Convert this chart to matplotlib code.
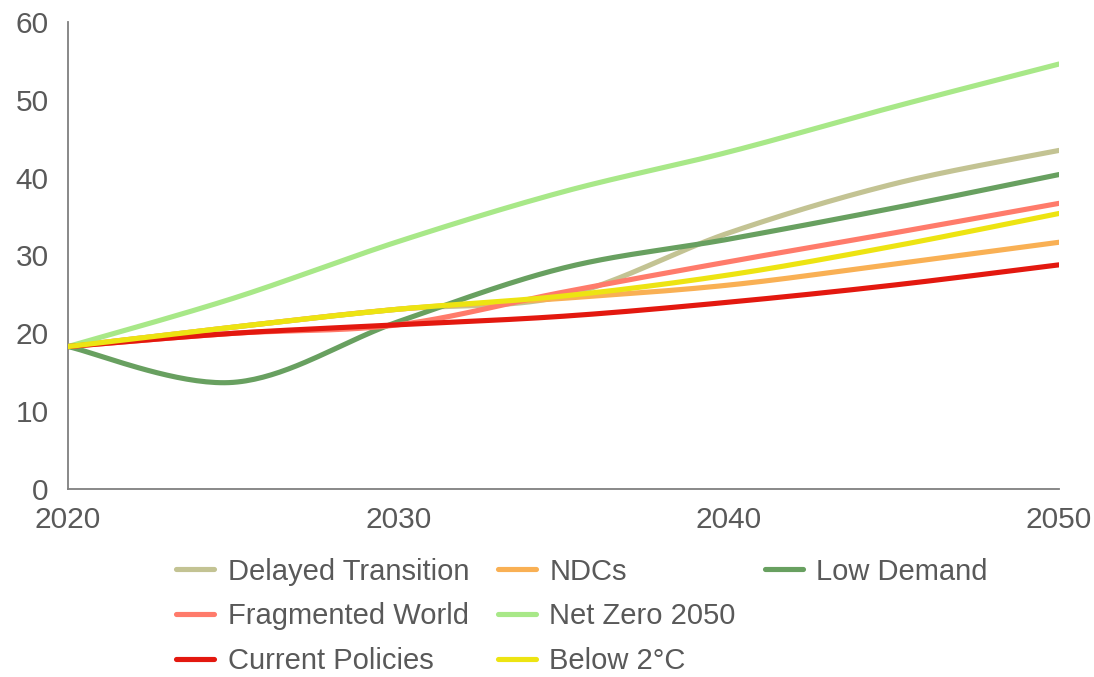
import matplotlib

matplotlib.use("Agg")
import matplotlib.pyplot as plt
from matplotlib.lines import Line2D
import numpy as np

plt.rcParams["font.family"] = ["Liberation Sans", "DejaVu Sans"]

# ── Data ──────────────────────────────────────────────────────────────────────
years = [2020, 2025, 2030, 2035, 2040, 2045, 2050]

delayed_transition = [18.3, 20.8, 23.1, 24.8, 32.9, 39.2, 43.5]
ndcs = [18.3, 20.8, 23.1, 24.5, 26.2, 28.9, 31.7]
low_demand = [18.3, 13.7, 21.5, 28.4, 32.1, 36.1, 40.4]
fragmented_world = [18.3, 20.0, 21.1, 25.3, 29.2, 32.9, 36.7]
net_zero_2050 = [18.3, 24.5, 31.8, 38.2, 43.3, 49.1, 54.6]
current_policies = [18.3, 20.0, 21.1, 22.2, 24.0, 26.2, 28.8]
below_2c = [18.3, 20.8, 23.1, 24.8, 27.5, 31.2, 35.4]

series = [
    ("Delayed Transition", delayed_transition, "#C3C393"),
    ("NDCs", ndcs, "#F9B054"),
    ("Low Demand", low_demand, "#68A060"),
    ("Fragmented World", fragmented_world, "#FF7B6B"),
    ("Net Zero 2050", net_zero_2050, "#A8E888"),
    ("Current Policies", current_policies, "#E3180F"),
    ("Below 2°C", below_2c, "#EDE412"),
]

TEXT = "#595959"
AXIS = "#7F7F7F"


# Excel-style smoothed line (Bezier through the points)
def smooth(x, y, n=40):
    p = np.column_stack([x, y]).astype(float)
    pts = []
    for i in range(len(p) - 1):
        p0 = p[i - 1] if i > 0 else p[i]
        p1, p2 = p[i], p[i + 1]
        p3 = p[i + 2] if i + 2 < len(p) else p[i + 1]
        c1 = p1 + (p2 - p0) / 6
        c2 = p2 - (p3 - p1) / 6
        t = np.linspace(0, 1, n)[:, None]
        seg = (1 - t) ** 3 * p1 + 3 * (1 - t) ** 2 * t * c1 + 3 * (1 - t) * t**2 * c2 + t**3 * p2
        pts.append(seg if i == 0 else seg[1:])
    pts = np.vstack(pts)
    return pts[:, 0], pts[:, 1]


# ── Figure ────────────────────────────────────────────────────────────────────
fig = plt.figure(figsize=(10.94, 6.77), dpi=100)
ax = fig.add_axes([0.0622, 0.2777, 0.9058, 0.6898])

handles = []
for z, (name, vals, col) in enumerate(series):
    xs, ys = smooth(years, vals)
    ax.plot(xs, ys, color=col, lw=3.7, solid_capstyle="round", zorder=3 + z)
    handles.append(Line2D([], [], color=col, lw=3.7, solid_capstyle="round", label=name))

ax.set_xlim(2020, 2050)
ax.set_ylim(0, 60)
ax.set_xticks([2020, 2030, 2040, 2050])
ax.set_yticks(range(0, 61, 10))
ax.tick_params(length=0, labelsize=21.5, colors=TEXT)
ax.tick_params(axis="x", pad=12)
ax.tick_params(axis="y", pad=14)
for s in ["top", "right"]:
    ax.spines[s].set_visible(False)
for s in ["left", "bottom"]:
    ax.spines[s].set_color(AXIS)
    ax.spines[s].set_linewidth(1.3)

# legend laid out row-wise like the original (column-major fill + blank slot)
order = [0, 3, 5, 1, 4, 6, 2]
leg_handles = [handles[i] for i in order] + [Line2D([], [], color="none", label=" ")]
leg = fig.legend(
    handles=leg_handles,
    loc="upper left",
    bbox_to_anchor=(0.148, 0.198),
    ncol=3,
    frameon=False,
    fontsize=21,
    handlelength=1.3,
    handletextpad=0.45,
    columnspacing=1.0,
    labelspacing=0.58,
    borderpad=0,
)
for t in leg.get_texts():
    t.set_color(TEXT)

fig.savefig("out.png", dpi=100, facecolor="white")
